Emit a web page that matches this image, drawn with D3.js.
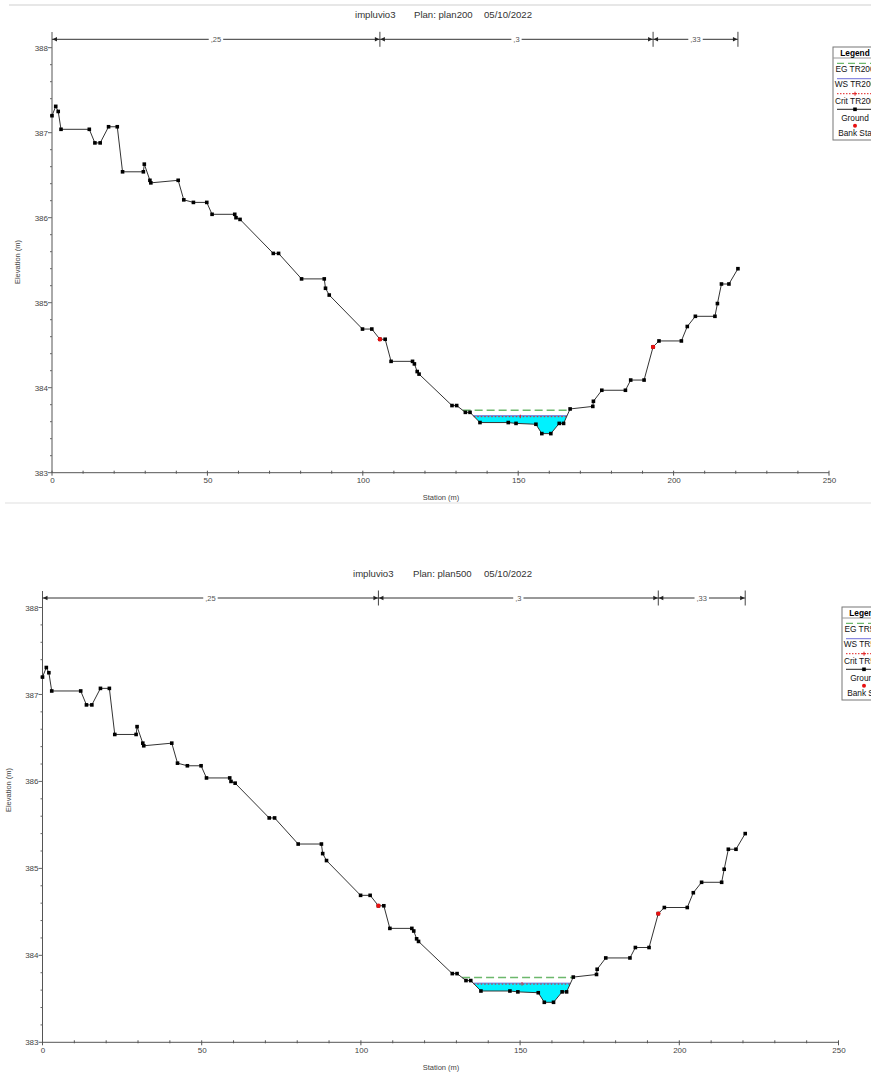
<!DOCTYPE html>
<html>
<head>
<meta charset="utf-8">
<script src="https://cdn.jsdelivr.net/npm/d3@7"></script>
<style>
html,body{margin:0;padding:0;background:#fff;}
svg{display:block;font-family:"Liberation Sans",Arial,sans-serif;}
</style>
</head>
<body>
<svg id="chart" width="871" height="1072"></svg>
<script>
// ---- DATA ----
const stations = [0, 1.2, 2.0, 2.9, 12.0, 13.8, 15.5, 18.2, 21.0, 22.7, 29.4, 29.7, 31.5, 31.8, 40.6, 42.4, 45.5, 49.8, 51.5, 58.8, 59.2, 60.5, 71.2, 72.9, 80.3, 87.6, 88.0, 89.2, 99.9, 102.9, 105.5, 107.2, 109.1, 116.0, 116.6, 117.5, 118.1, 128.7, 130.2, 133.0, 134.5, 137.7, 146.8, 149.3, 155.7, 157.6, 160.5, 163.2, 164.6, 166.7, 174.0, 174.2, 176.9, 184.5, 186.2, 190.5, 193.4, 195.3, 202.5, 204.4, 207.0, 213.3, 214.1, 215.4, 217.8, 220.7];
const elevations = [387.20, 387.31, 387.25, 387.04, 387.04, 386.88, 386.88, 387.07, 387.07, 386.54, 386.54, 386.63, 386.44, 386.41, 386.44, 386.21, 386.18, 386.18, 386.04, 386.04, 386.00, 385.98, 385.58, 385.58, 385.28, 385.28, 385.17, 385.09, 384.69, 384.69, 384.57, 384.57, 384.31, 384.31, 384.28, 384.19, 384.16, 383.79, 383.79, 383.71, 383.71, 383.59, 383.59, 383.58, 383.57, 383.46, 383.46, 383.58, 383.58, 383.75, 383.78, 383.84, 383.97, 383.97, 384.09, 384.09, 384.48, 384.55, 384.55, 384.72, 384.84, 384.84, 384.99, 385.22, 385.22, 385.40];
const bankStations = [105.5, 193.4];
const nBoundaries = [0, 105.5, 193.4, 220.7];
const nLabels = [",25", ",3", ",33"];
const plans = ["plan200", "plan500"];
const profiles = ["TR200", "TR500"];
const wsLevels = [383.67, 383.68];
const egLevels = [383.735, 383.745];
const critLevels = [383.665, 383.675];
const xTickValues = [0, 50, 100, 150, 200, 250];
const yTickValues = [383, 384, 385, 386, 387, 388];
const projectName = "impluvio3";
const dateText = "05/10/2022";

// ---- LAYOUT ----
const layouts = [
  {x0:52, x1:829, yTop:47.7, yBot:472.7, axisTop:32, dimY:39.3, titleY:18, titleX:[355,414,484],
   elevLbl:[17,262], statLbl:[441,500], legX:833, legY:47, legC:855},
  {x0:42.5, x1:838.5, yTop:607.5, yBot:1042.3, axisTop:591, dimY:598, titleY:577, titleX:[353,413,484],
   elevLbl:[8,790], statLbl:[441,1070], legX:842, legY:607, legC:864}
];

const svg = d3.select("#chart");
svg.append("rect").attr("width",871).attr("height",1072).attr("fill","#fff");
// separators
svg.append("line").attr("x1",9).attr("x2",871).attr("y1",5).attr("y2",5).attr("stroke","#d0d0d0").attr("stroke-width",1.2);
svg.append("line").attr("x1",5).attr("x2",871).attr("y1",503).attr("y2",503).attr("stroke","#e0e0e0").attr("stroke-width",1.2);

const ground = stations.map((s,i)=>[s, elevations[i]]);
function groundAt(s){
  for(let i=1;i<ground.length;i++){
    if(s<=ground[i][0]){const a=ground[i-1],b=ground[i];return a[1]+(b[1]-a[1])*(s-a[0])/(b[0]-a[0]);}
  }
  return ground[ground.length-1][1];
}
function crossings(L){
  let imin=0; ground.forEach((p,i)=>{if(p[1]<ground[imin][1]) imin=i;});
  let i=imin; while(i>0 && ground[i-1][1]<L) i--;
  const a=ground[i-1], b=ground[i];
  const left=a[0]+(L-a[1])*(b[0]-a[0])/(b[1]-a[1]);
  let j=imin; while(j<ground.length-1 && ground[j+1][1]<L) j++;
  const c=ground[j], d=ground[j+1];
  const right=c[0]+(L-c[1])*(d[0]-c[0])/(d[1]-c[1]);
  return {left,right,i,j};
}

function drawChart(k){
  const L = layouts[k];
  const g = svg.append("g");
  const x = d3.scaleLinear().domain([0,250]).range([L.x0,L.x1]);
  const y = d3.scaleLinear().domain([383,388]).range([L.yBot,L.yTop]);
  const fs = 8;

  // title
  const tt = [projectName, "Plan: "+plans[k], dateText];
  tt.forEach((t,i)=>g.append("text").attr("x",L.titleX[i]).attr("y",L.titleY).attr("font-size",9.6).attr("fill","#333").text(t));

  // axes lines
  g.append("line").attr("x1",L.x0).attr("x2",L.x0).attr("y1",L.axisTop).attr("y2",L.yBot).attr("stroke","#555");
  g.append("line").attr("x1",L.x0).attr("x2",L.x1).attr("y1",L.yBot).attr("y2",L.yBot).attr("stroke","#555");
  // y ticks
  const yMinor = d3.range(0,26).map(i=>383+i*0.2);
  yMinor.forEach(v=>{
    const major = Math.abs(v-Math.round(v))<1e-6;
    g.append("line").attr("x1",L.x0-(major?4:2)).attr("x2",L.x0).attr("y1",y(v)).attr("y2",y(v)).attr("stroke","#666");
  });
  const yAxis = d3.axisLeft(y).tickValues(yTickValues).tickSize(0).tickPadding(4).tickFormat(d3.format("d"));
  const ya = g.append("g").attr("transform",`translate(${L.x0},0)`).call(yAxis);
  ya.select(".domain").remove();
  ya.selectAll("text").attr("font-size",fs).attr("fill","#444").attr("font-family","Liberation Sans, Arial, sans-serif");
  // x ticks
  d3.range(0,26).map(i=>i*10).forEach(v=>{
    const major = v%50===0;
    g.append("line").attr("x1",x(v)).attr("x2",x(v)).attr("y1",L.yBot-2).attr("y2",L.yBot+(major?3:1)).attr("stroke","#555");
  });
  const xAxis = d3.axisBottom(x).tickValues(xTickValues).tickSize(0).tickPadding(5).tickFormat(d3.format("d"));
  const xa = g.append("g").attr("transform",`translate(0,${L.yBot})`).call(xAxis);
  xa.select(".domain").remove();
  xa.selectAll("text").attr("font-size",fs).attr("fill","#444").attr("font-family","Liberation Sans, Arial, sans-serif");

  // axis labels
  g.append("text").attr("transform",`translate(${L.elevLbl[0]},${L.elevLbl[1]}) rotate(-90)`).attr("text-anchor","middle")
    .attr("dy","0.35em").attr("font-size",7.5).attr("fill","#444").text("Elevation (m)");
  g.append("text").attr("x",L.statLbl[0]).attr("y",L.statLbl[1]).attr("text-anchor","middle").attr("font-size",7.5).attr("fill","#444").text("Station (m)");

  // Manning n dimension bar
  const dy = L.dimY;
  g.append("line").attr("x1",x(0)).attr("x2",x(nBoundaries[nBoundaries.length-1])).attr("y1",dy).attr("y2",dy).attr("stroke","#333");
  nBoundaries.slice(1).forEach(b=>{
    g.append("line").attr("x1",x(b)).attr("x2",x(b)).attr("y1",dy-7.5).attr("y2",dy+7.5).attr("stroke","#444");
  });
  for(let i=0;i<nLabels.length;i++){
    const a=x(nBoundaries[i]), b=x(nBoundaries[i+1]);
    // arrowheads
    g.append("path").attr("d",`M${a+0.5},${dy} L${a+5},${dy-2.2} L${a+5},${dy+2.2}Z`).attr("fill","#222");
    g.append("path").attr("d",`M${b-0.5},${dy} L${b-5},${dy-2.2} L${b-5},${dy+2.2}Z`).attr("fill","#222");
    const cx=(a+b)/2;
    const t = g.append("text").attr("x",cx).attr("y",dy).attr("dy","0.35em").attr("text-anchor","middle").attr("font-size",7.5).attr("fill","#555").text(nLabels[i]);
    const bb = t.node().getBBox();
    g.insert("rect", () => t.node()).attr("x",bb.x-2).attr("y",dy-3).attr("width",bb.width+4).attr("height",6).attr("fill","#fff");
  }

  // water fill
  const ws = wsLevels[k];
  const cw = crossings(ws);
  const poly = [[cw.left, ws]].concat(ground.slice(cw.i, cw.j+1)).concat([[cw.right, ws]]);
  const line = d3.line().x(d=>x(d[0])).y(d=>y(d[1]));
  g.append("path").attr("d",line(poly)+"Z").attr("fill","#00f2ff").attr("stroke","none");
  // WS line
  g.append("line").attr("x1",x(cw.left)).attr("x2",x(cw.right)).attr("y1",y(ws)).attr("y2",y(ws)).attr("stroke","#6a6ad8").attr("stroke-width",1);
  // Crit line
  const cl = critLevels[k];
  const cc = crossings(cl);
  g.append("line").attr("x1",x(cc.left)).attr("x2",x(cc.right)).attr("y1",y(cl)+0.5).attr("y2",y(cl)+0.5).attr("stroke","#e02020").attr("stroke-width",1).attr("stroke-dasharray","1.5,2");
  const cmid = (cc.left+cc.right)/2;
  g.append("line").attr("x1",x(cmid)).attr("x2",x(cmid)).attr("y1",y(cl)-1.5).attr("y2",y(cl)+2).attr("stroke","#e02020");
  // EG line
  const eg = egLevels[k];
  const ce = crossings(eg);
  g.append("line").attr("x1",x(ce.left)).attr("x2",x(ce.right)).attr("y1",y(eg)).attr("y2",y(eg)).attr("stroke","#6cb86c").attr("stroke-width",1.3).attr("stroke-dasharray","8,4");

  // ground
  g.append("path").attr("d",line(ground)).attr("fill","none").attr("stroke","#333").attr("stroke-width",1);
  g.selectAll(".gm").data(ground).enter().append("rect")
    .attr("x",d=>x(d[0])-1.8).attr("y",d=>y(d[1])-1.8).attr("width",3.6).attr("height",3.6).attr("fill","#000");
  // bank stations
  bankStations.forEach(b=>{
    g.append("circle").attr("cx",x(b)).attr("cy",y(groundAt(b))).attr("r",2.2).attr("fill","#e81010");
  });

  // legend
  const lx=L.legX, ly=L.legY, lc=L.legC;
  g.append("rect").attr("x",lx).attr("y",ly).attr("width",60).attr("height",93).attr("fill","#fff").attr("stroke","#777");
  g.append("line").attr("x1",lx).attr("x2",lx+60).attr("y1",ly+11).attr("y2",ly+11).attr("stroke","#999");
  g.append("text").attr("x",lc).attr("y",ly+8.8).attr("text-anchor","middle").attr("font-size",8.3).attr("font-weight","bold").text("Legend");
  const lt = (txt,yy)=>g.append("text").attr("x",lc).attr("y",ly+yy).attr("text-anchor","middle").attr("font-size",8.3).attr("fill","#111").text(txt);
  g.append("line").attr("x1",lx+4).attr("x2",lx+55).attr("y1",ly+16.3).attr("y2",ly+16.3).attr("stroke","#6cb86c").attr("stroke-width",1.2).attr("stroke-dasharray","7,4");
  lt("EG "+profiles[k], 25.3);
  g.append("line").attr("x1",lx+4).attr("x2",lx+55).attr("y1",ly+31.7).attr("y2",ly+31.7).attr("stroke","#8a8ae0").attr("stroke-width",1.3);
  lt("WS "+profiles[k], 40.3);
  g.append("line").attr("x1",lx+4).attr("x2",lx+55).attr("y1",ly+46.7).attr("y2",ly+46.7).attr("stroke","#e02020").attr("stroke-width",1).attr("stroke-dasharray","1.5,1.5");
  g.append("path").attr("d",`M${lc-2},${ly+46.7} L${lc+2},${ly+46.7} M${lc},${ly+44.7} L${lc},${ly+48.7}`).attr("stroke","#e02020");
  lt("Crit "+profiles[k], 57);
  g.append("line").attr("x1",lx+4).attr("x2",lx+55).attr("y1",ly+62.3).attr("y2",ly+62.3).attr("stroke","#222").attr("stroke-width",1);
  g.append("rect").attr("x",lc-1.8).attr("y",ly+60.5).attr("width",3.6).attr("height",3.6).attr("fill","#000");
  lt("Ground", 73.5);
  g.append("circle").attr("cx",lc).attr("cy",ly+78.7).attr("r",2).attr("fill","#e81010");
  lt("Bank Sta", 89);
}

drawChart(0);
drawChart(1);
</script>
</body>
</html>
